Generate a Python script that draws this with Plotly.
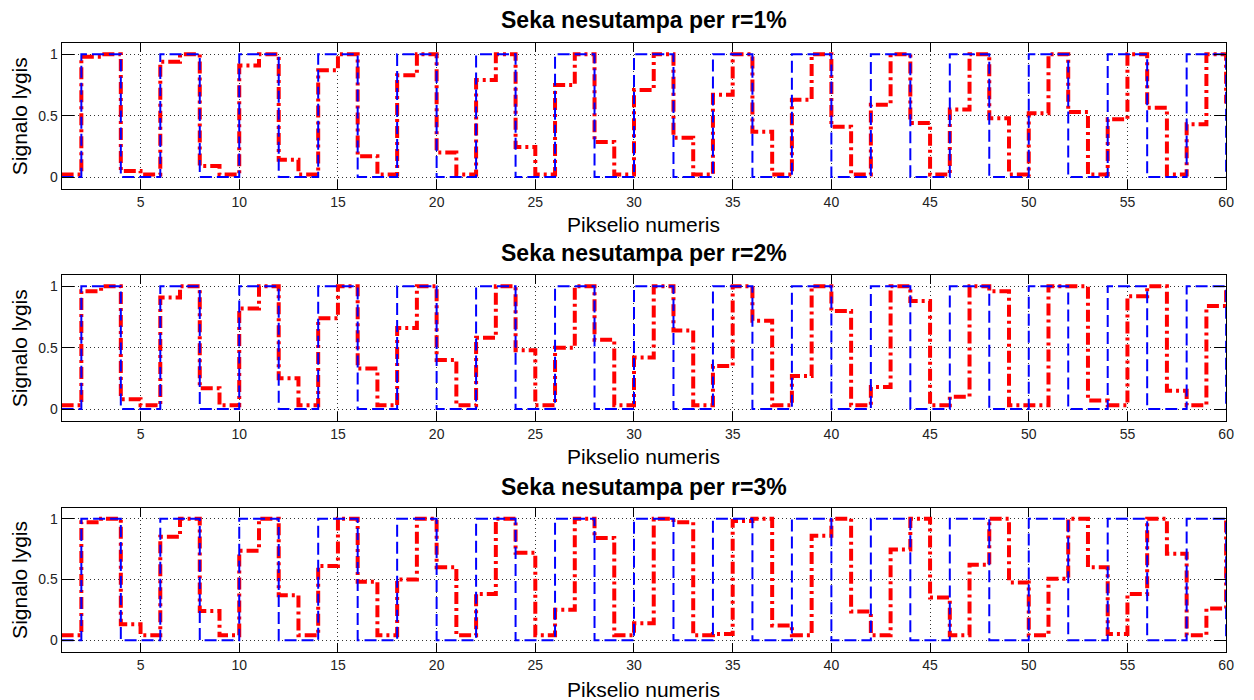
import plotly.graph_objects as go

# ---------------- data ----------------
pixel = list(range(1, 61))

blue_signal = [0, 1, 1, 0, 0, 1, 1, 0, 0, 1, 1, 0, 0, 1, 1, 0, 0, 1, 1, 0,
               0, 1, 1, 0, 0, 1, 1, 0, 0, 1, 1, 0, 0, 1, 1, 0, 0, 1, 1, 0,
               0, 1, 1, 0, 0, 1, 1, 0, 0, 1, 1, 0, 0, 1, 1, 0, 0, 1, 1, 0]

red_r1 = [0.02, 0.98, 1.0, 0.05, 0.02, 0.94, 1.0, 0.09, 0.02, 0.91,
          1.0, 0.14, 0.02, 0.87, 1.0, 0.17, 0.02, 0.83, 1.0, 0.20,
          0.02, 0.79, 1.0, 0.245, 0.02, 0.75, 1.0, 0.285, 0.02, 0.71,
          1.0, 0.32, 0.02, 0.67, 1.0, 0.37, 0.02, 0.63, 1.0, 0.41,
          0.02, 0.59, 1.0, 0.44, 0.02, 0.55, 1.0, 0.48, 0.02, 0.52,
          1.0, 0.53, 0.02, 0.47, 1.0, 0.565, 0.02, 0.43, 1.0, 0.60]

red_r2 = [0.03, 0.96, 1.0, 0.08, 0.03, 0.91, 1.0, 0.17, 0.03, 0.82,
          1.0, 0.25, 0.03, 0.74, 1.0, 0.33, 0.03, 0.66, 1.0, 0.40,
          0.03, 0.58, 1.0, 0.48, 0.03, 0.50, 1.0, 0.565, 0.03, 0.42,
          1.0, 0.64, 0.03, 0.35, 1.0, 0.72, 0.03, 0.27, 1.0, 0.80,
          0.03, 0.18, 1.0, 0.88, 0.03, 0.10, 1.0, 0.96, 0.03, 0.03,
          1.0, 1.0, 0.07, 0.03, 0.92, 1.0, 0.15, 0.03, 0.84, 1.0]

red_r3 = [0.04, 0.97, 1.0, 0.13, 0.04, 0.85, 1.0, 0.24, 0.04, 0.735,
          1.0, 0.37, 0.04, 0.61, 1.0, 0.48, 0.04, 0.50, 1.0, 0.60,
          0.04, 0.38, 1.0, 0.72, 0.04, 0.25, 1.0, 0.84, 0.04, 0.14,
          1.0, 0.97, 0.04, 0.05, 0.98, 1.0, 0.12, 0.04, 0.86, 1.0,
          0.235, 0.04, 0.745, 1.0, 0.35, 0.04, 0.62, 1.0, 0.475, 0.04,
          0.505, 1.0, 0.60, 0.05, 0.38, 1.0, 0.71, 0.04, 0.26, 1.0]

titles = ["Seka nesutampa per r=1%", "Seka nesutampa per r=2%", "Seka nesutampa per r=3%"]
x_label = "Pikselio numeris"
y_label = "Signalo lygis"
x_ticks = [5, 10, 15, 20, 25, 30, 35, 40, 45, 50, 55, 60]
y_ticks = [0, 0.5, 1]
y_tick_text = ["0", "0.5", "1"]

# ---------------- figure ----------------
W, H = 1254, 700
FONT = "Liberation Sans, Arial, Helvetica, sans-serif"

x_dom = [62 / W, 1234 / W]
# (top px, bottom px) of each axes box
boxes = [(43.3, 189.3), (275.3, 421.3), (507.7, 652.3)]
title_y = [20, 253, 487]
xlabel_y = [224, 456, 689]

fig = go.Figure()
reds = [red_r1, red_r2, red_r3]

for i in range(3):
    sfx = "" if i == 0 else str(i + 1)
    fig.add_trace(go.Scatter(
        x=pixel, y=reds[i], mode="lines", line_shape="hv",
        line=dict(color="#FF0000", width=4, dash="12px,4px,3px,4px"),
        xaxis="x" + sfx, yaxis="y" + sfx, showlegend=False, hoverinfo="skip"))
    fig.add_trace(go.Scatter(
        x=pixel, y=blue_signal, mode="lines", line_shape="hv",
        line=dict(color="#0000FF", width=2, dash="12px,5px"),
        xaxis="x" + sfx, yaxis="y" + sfx, showlegend=False, hoverinfo="skip"))

layout = dict(
    width=W, height=H,
    margin=dict(l=0, r=0, t=0, b=0),
    paper_bgcolor="white", plot_bgcolor="white",
    font=dict(family=FONT, color="black"),
    annotations=[],
)

for i in range(3):
    sfx = "" if i == 0 else str(i + 1)
    top, bot = boxes[i]
    y_dom = [1 - bot / H, 1 - top / H]
    layout["xaxis" + sfx] = dict(
        domain=x_dom, range=[1, 60], anchor="y" + sfx,
        tickmode="array", tickvals=x_ticks,
        ticks="inside", ticklen=9, tickcolor="black", tickwidth=1,
        showline=True, linecolor="black", linewidth=1, mirror="allticks",
        showgrid=True, gridcolor="#333333", gridwidth=1, griddash="1px,3px",
        zeroline=False, tickfont=dict(size=14, family=FONT, color="#222222"),
    )
    layout["yaxis" + sfx] = dict(
        domain=y_dom, range=[-0.1, 1.09], anchor="x" + sfx,
        tickmode="array", tickvals=y_ticks, ticktext=y_tick_text,
        ticks="inside", ticklen=12, tickcolor="black", tickwidth=1,
        showline=True, linecolor="black", linewidth=1, mirror="allticks",
        showgrid=True, gridcolor="#333333", gridwidth=1, griddash="1px,3px",
        zeroline=False, tickfont=dict(size=14, family=FONT, color="#222222"),
    )
    cx = (x_dom[0] + x_dom[1]) / 2
    layout["annotations"].append(dict(
        text="<b>" + titles[i] + "</b>", x=cx, y=1 - title_y[i] / H,
        xref="paper", yref="paper", xanchor="center", yanchor="middle",
        showarrow=False, font=dict(size=23, family=FONT, color="black")))
    layout["annotations"].append(dict(
        text=x_label, x=cx, y=1 - xlabel_y[i] / H,
        xref="paper", yref="paper", xanchor="center", yanchor="middle",
        showarrow=False, font=dict(size=21, family=FONT, color="black")))
    layout["annotations"].append(dict(
        text=y_label, x=19 / W, y=(y_dom[0] + y_dom[1]) / 2,
        xref="paper", yref="paper", xanchor="center", yanchor="middle",
        textangle=-90, showarrow=False,
        font=dict(size=21, family=FONT, color="black")))

fig.update_layout(**layout)
fig.write_html("out.html")
